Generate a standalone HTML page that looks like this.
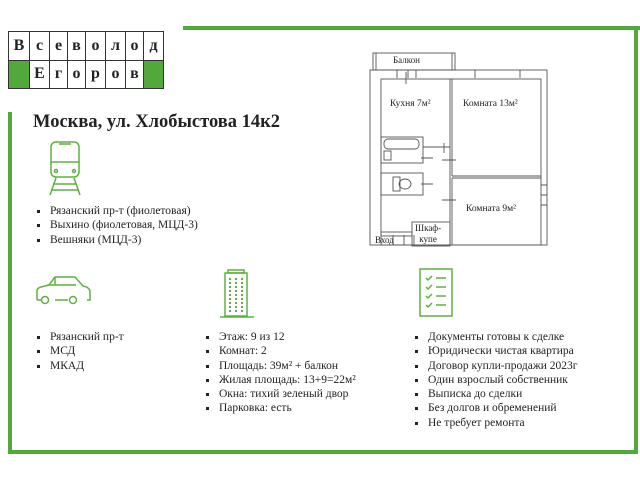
<!DOCTYPE html>
<html><head><meta charset="utf-8"><style>
*{margin:0;padding:0;box-sizing:border-box}
body{width:640px;height:480px;background:#fff;position:relative;overflow:hidden;font-family:"Liberation Serif",serif;color:#222}
.g{position:absolute;background:#52a83a}
table{position:absolute;left:8px;top:31px;border-collapse:collapse}
td{border:1px solid #333;height:28.5px;text-align:center;font-weight:bold;font-size:16px;padding:0}
td.f{background:#52a83a}
h1{position:absolute;left:33px;top:112px;font-size:18.5px;font-weight:bold}
ul{position:absolute;list-style:none;font-size:11.5px;line-height:14.3px}
li{position:relative;padding-left:13px;white-space:nowrap}
li:before{content:"";position:absolute;left:0;top:6px;width:3px;height:3px;background:#222}
.fp{position:absolute;font-size:9px}
</style></head><body>
<div class="g" style="left:183px;top:26px;width:457px;height:4px"></div>
<div class="g" style="left:634px;top:26px;width:4px;height:428px"></div>
<div class="g" style="left:8px;top:450px;width:630px;height:4px"></div>
<div class="g" style="left:8px;top:112px;width:4px;height:342px"></div>
<table>
<tr><td style="width:21px">В</td><td style="width:20px">с</td><td style="width:18px">е</td><td style="width:18px">в</td><td style="width:20px">о</td><td style="width:20px">л</td><td style="width:18px">о</td><td style="width:20px">д</td></tr>
<tr><td class="f"></td><td>Е</td><td>г</td><td>о</td><td>р</td><td>о</td><td>в</td><td class="f"></td></tr>
</table>
<h1>Москва, ул. Хлобыстова 14к2</h1>

<svg style="position:absolute;left:0;top:0" width="640" height="480" fill="none" stroke="#5fb043" stroke-width="1.5">
<rect x="51" y="142" width="28" height="35" rx="5"/>
<line x1="51" y1="162" x2="79" y2="162"/>
<path d="M59 144 h12"/>
<circle cx="56" cy="171" r="1.5"/><circle cx="74" cy="171" r="1.5"/>
<path d="M56 178 L50 195 M74 178 L80 195 M53 184 h24 M51 190 h28"/>
<path d="M37 300 v-9 q0-3 4-4 l8-2 l6-8 h20 l8 9 q6 1 7 5 v9 h-3 M55 300 h13 M42 300 h-5"/>
<path d="M55 277 v8 h21 M55 285 h-8"/>
<circle cx="45" cy="300" r="3.5"/><circle cx="73" cy="300" r="3.5"/>
<rect x="225" y="273" width="22" height="43"/>
<rect x="228" y="270" width="16" height="3"/>
<line x1="220" y1="317" x2="254" y2="317"/>
<g stroke-width="2" stroke-dasharray="2 2">
<line x1="230" y1="278" x2="230" y2="313"/><line x1="236" y1="278" x2="236" y2="313"/><line x1="242" y1="278" x2="242" y2="313"/>
</g>
<rect x="420" y="269" width="32" height="47"/>
<path d="M426 278 l2 2 l4-4 M436 278 h10 M426 287 l2 2 l4-4 M436 287 h10 M426 296 l2 2 l4-4 M436 296 h10 M426 305 l2 2 l4-4 M436 305 h10"/>
</svg>

<svg style="position:absolute;left:0;top:0" width="640" height="480" fill="none" stroke="#555" stroke-width="0.9">
<rect x="373" y="53" width="82" height="17"/>
<line x1="376" y1="53" x2="376" y2="70"/><line x1="452" y1="53" x2="452" y2="70"/>
<rect x="370" y="70" width="177" height="175"/>
<rect x="381" y="79" width="160" height="166"/>
<line x1="450" y1="79" x2="450" y2="245"/><line x1="452" y1="79" x2="452" y2="176"/>
<line x1="452" y1="176" x2="541" y2="176"/><line x1="452" y1="178" x2="541" y2="178"/>
<line x1="452" y1="178" x2="452" y2="245"/>
<rect x="381" y="137" width="42" height="26"/><rect x="384" y="139" width="35" height="10" rx="4"/>
<rect x="384" y="151" width="7" height="9"/>
<rect x="381" y="173" width="42" height="22"/><ellipse cx="405" cy="184" rx="6" ry="5"/><rect x="393" y="177" width="7" height="14"/>
<line x1="423" y1="147" x2="450" y2="147"/>
<path d="M397 70 v8 M408 70 v8 M416 70 v8 M475 70 v8 M520 70 v8 M406 72 v12 M541 185 h6 M541 195 h6 M541 205 h6"/>
<path d="M444 143 v10 M421 158 h12 M421 184 h12 M442 160 h14 M442 200 h14 M393 235 v10 M404 235 v10 M414 235 v10"/>
<rect x="412" y="222" width="38" height="24"/>
<rect x="381" y="232" width="31" height="4"/>
</svg>
<div class="fp" style="left:393px;top:55px">Балкон</div>
<div class="fp" style="left:390px;top:99px;font-size:9.5px">Кухня 7м²</div>
<div class="fp" style="left:463px;top:99px;font-size:9.5px">Комната 13м²</div>
<div class="fp" style="left:466px;top:204px;font-size:9.5px">Комната 9м²</div>
<div class="fp" style="left:415px;top:223px;text-align:center;line-height:11px">Шкаф-<br>купе</div>
<div class="fp" style="left:375px;top:235px">Вход</div>

<ul style="left:37px;top:204px"><li>Рязанский пр-т (фиолетовая)</li><li>Выхино (фиолетовая, МЦД-3)</li><li>Вешняки (МЦД-3)</li></ul>
<ul style="left:37px;top:330px"><li>Рязанский пр-т</li><li>МСД</li><li>МКАД</li></ul>
<ul style="left:206px;top:330px"><li>Этаж: 9 из 12</li><li>Комнат: 2</li><li>Площадь: 39м² + балкон</li><li>Жилая площадь: 13+9=22м²</li><li>Окна: тихий зеленый двор</li><li>Парковка: есть</li></ul>
<ul style="left:415px;top:330px"><li>Документы готовы к сделке</li><li>Юридически чистая квартира</li><li>Договор купли-продажи 2023г</li><li>Один взрослый собственник</li><li>Выписка до сделки</li><li>Без долгов и обременений</li><li>Не требует ремонта</li></ul>
</body></html>
